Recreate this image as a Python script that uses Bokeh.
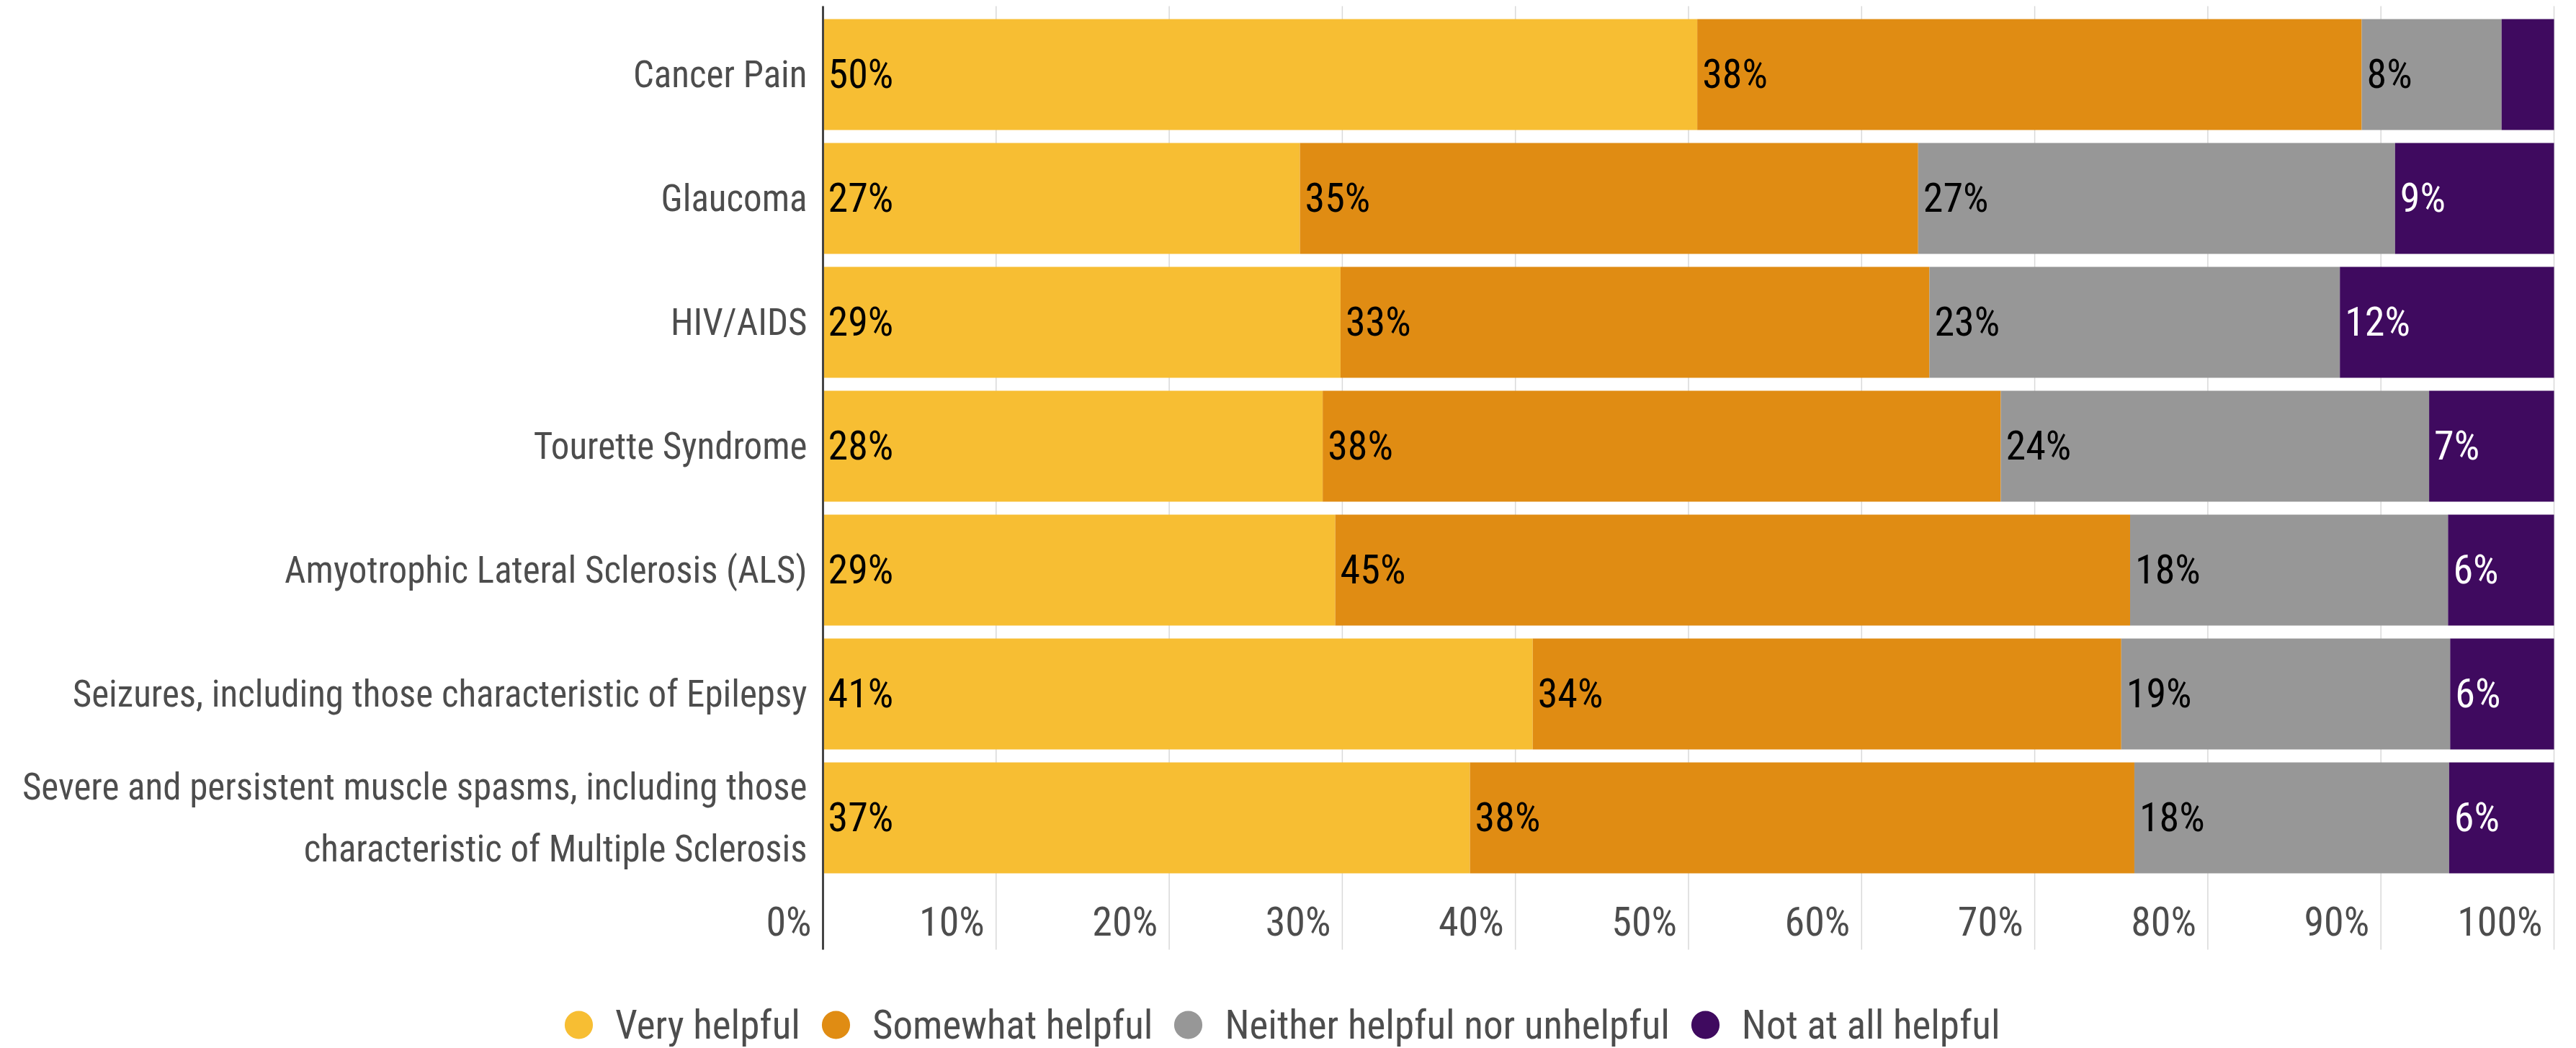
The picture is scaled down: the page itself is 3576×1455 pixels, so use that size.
from bokeh.plotting import figure
from bokeh.models import ColumnDataSource, Range1d, Legend, LegendItem
from bokeh.core.properties import value
from bokeh.embed import file_html
from bokeh.resources import INLINE

# ---------------- data ----------------
categories = [
    "Cancer Pain",
    "Glaucoma",
    "HIV/AIDS",
    "Tourette Syndrome",
    "Amyotrophic Lateral Sclerosis (ALS)",
    "Seizures, including those characteristic of Epilepsy",
    "Severe and persistent muscle spasms, including those\ncharacteristic of Multiple Sclerosis",
]
series_names = ["Very helpful", "Somewhat helpful", "Neither helpful nor unhelpful", "Not at all helpful"]
very_helpful = [50, 27, 29, 28, 29, 41, 37]
somewhat_helpful = [38, 35, 33, 38, 45, 34, 38]
neither = [8, 27, 23, 24, 18, 19, 18]
not_at_all = [3, 9, 12, 7, 6, 6, 6]
x_ticks = [0, 10, 20, 30, 40, 50, 60, 70, 80, 90, 100]
x_tick_labels = ["0%", "10%", "20%", "30%", "40%", "50%", "60%", "70%", "80%", "90%", "100%"]

colors = ["#F7BE33", "#E08C13", "#979797", "#3F0A5F"]
label_colors = ["#000000", "#000000", "#000000", "#FFFFFF"]

FONT = "Liberation Sans Narrow, Roboto Condensed, DejaVu Sans Condensed, sans-serif"
TXT = "#4D4D4D"

series = [very_helpful, somewhat_helpful, neither, not_at_all]
n = len(categories)
idx = list(range(n))
totals = [sum(s[i] for s in series) for i in idx]

# percent-stacked geometry computed from data
lefts, rights = [], []
acc = [0.0] * n
for s in series:
    l = acc[:]
    r = [acc[i] + 100.0 * s[i] / totals[i] for i in idx]
    lefts.append(l)
    rights.append(r)
    acc = r

# ---------------- layout (pixels -> data units) ----------------
W, H = 3568, 1453
AXIS_PX, FULL_PX = 1142, 3545           # x pixel of 0% and of 100%
PXU = (FULL_PX - AXIS_PX) / 100.0        # pixels per percent
X_START = -AXIS_PX / PXU
X_END = X_START + W / PXU
BAND = 172.0                             # pixels per category
Y_TOP = -0.552                           # top of gridlines / axis
Y_START_TOP = Y_TOP - 8 / BAND           # top of frame
Y_END_BOTTOM = Y_START_TOP + H / BAND    # bottom of frame
Y_GRID_BOTTOM = n - 1 + 1.064            # bottom of gridlines / axis line
Y_TICKS = n - 1 + 0.843                  # row of x tick labels

p = figure(
    frame_width=W, frame_height=H,
    min_border_left=0, min_border_right=0, min_border_top=0, min_border_bottom=0,
    x_range=Range1d(X_START, X_END), y_range=Range1d(Y_END_BOTTOM, Y_START_TOP),
    x_axis_location=None, y_axis_location=None,
    output_backend="svg", toolbar_location=None,
)
p.outline_line_color = None
p.background_fill_color = "white"
p.xgrid.visible = False
p.ygrid.visible = False

# vertical gridlines
p.segment(x0=x_ticks, x1=x_ticks, y0=[Y_TOP] * len(x_ticks), y1=[Y_GRID_BOTTOM] * len(x_ticks),
          line_color="#D9D9D9", line_width=1.5)

# bars
for k, s in enumerate(series):
    src = ColumnDataSource(dict(y=idx, left=lefts[k], right=rights[k]))
    p.hbar(y="y", left="left", right="right", height=0.895, source=src,
           fill_color=colors[k], line_color=None)

# axis line at 0%
p.segment(x0=[0], x1=[0], y0=[Y_TOP], y1=[Y_GRID_BOTTOM], line_color="#444444", line_width=3)

# data labels (segments >= 5%)
for k, s in enumerate(series):
    xs = [lefts[k][i] for i in idx if s[i] >= 5]
    ys = [i for i in idx if s[i] >= 5]
    ts = [f"{s[i]}%" for i in idx if s[i] >= 5]
    p.text(x=xs, y=ys, text=ts, x_offset=7, text_align="left", text_baseline="middle",
           text_font=value(FONT), text_font_size="56px", text_color=label_colors[k])

# category labels
p.text(x=[0] * n, y=idx, text=categories, x_offset=-22, text_align="right",
       text_baseline="middle", text_line_height=1.45,
       text_font=value(FONT), text_font_size="51px", text_color=TXT)

# x tick labels, right-aligned at each gridline
p.text(x=x_ticks, y=[Y_TICKS] * len(x_ticks), text=x_tick_labels, x_offset=-16,
       text_align="right", text_baseline="middle",
       text_font=value(FONT), text_font_size="56px", text_color=TXT)

# legend with circle markers
items = []
for k, name in enumerate(series_names):
    mids = [(lefts[k][i] + rights[k][i]) / 2 for i in idx]
    r = p.scatter(x=mids, y=idx, size=0, marker="circle", fill_color=colors[k], line_color=None)
    items.append(LegendItem(label=name, renderers=[r]))
legend = Legend(items=items, orientation="horizontal", location=(754, -22),
                glyph_width=98, glyph_height=105, label_standoff=2, spacing=0,
                padding=0, margin=0, border_line_color=None, background_fill_alpha=0,
                label_text_font=FONT, label_text_font_size="55px", label_text_color=TXT,
                label_text_baseline="middle")
p.add_layout(legend, "center")

open("out.html", "w").write(file_html(p, INLINE))
